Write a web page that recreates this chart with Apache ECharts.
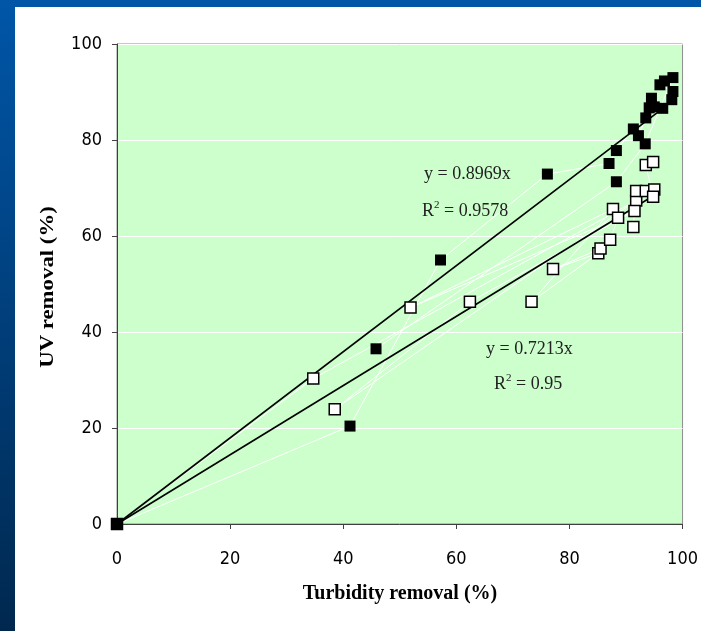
<!DOCTYPE html>
<html><head><meta charset="utf-8">
<script src="https://cdn.jsdelivr.net/npm/echarts@6/dist/echarts.min.js"></script>
<style>html,body{margin:0;padding:0;background:#fff}#c{width:701px;height:631px}</style>
</head><body><div id="c"></div>
<script>
// Filled squares (data order)
var filledX = [0, 41.2, 57.2, 76.1, 87.0, 88.3, 91.3, 92.2, 93.5, 94.1, 95.0, 94.5, 96.5, 98.1, 98.3, 96.0, 96.8, 98.3, 93.4, 88.3, 45.8];
var filledY = [0, 20.4, 55.0, 72.9, 75.1, 77.8, 82.3, 80.9, 84.6, 86.7, 86.9, 88.7, 86.6, 88.4, 90.1, 91.5, 92.3, 93.0, 79.2, 71.3, 36.5];
// Open squares (data order)
var openX = [0, 34.7, 91.8, 38.5, 62.4, 91.5, 51.9, 87.7, 73.3, 85.1, 77.1, 85.5, 87.2, 88.6, 91.3, 91.8, 93.5, 95.0, 94.8, 93.5, 94.8];
var openY = [0, 30.3, 67.4, 23.9, 46.3, 65.2, 45.1, 65.6, 46.3, 56.4, 53.1, 57.4, 59.2, 63.8, 61.9, 69.4, 69.4, 69.7, 68.2, 74.8, 75.4];
// Linear trend lines through origin
var trendUpperX = [0, 96.0];
var trendUpperY = [0, 86.1];
var trendLowerX = [0, 95.0];
var trendLowerY = [0, 68.5];
var xTicks = [0, 20, 40, 60, 80, 100];
var yTicks = [0, 20, 40, 60, 80, 100];

function pairs(xs, ys) { return xs.map(function (x, i) { return [x, ys[i]]; }); }

var chart = echarts.init(document.getElementById('c'), null, {renderer: 'canvas'});
var tickFont = 'DejaVu Sans Condensed';
var eqFont = '18px "Liberation Serif"';
var supRich = {s: {fontSize: 11, fontFamily: 'Liberation Serif', verticalAlign: 'top', padding: [0, 0, 11, 0], fill: '#222'}};
var option = {
  animation: false,
  backgroundColor: '#ffffff',
  graphic: [
    {type: 'rect', z: -10, silent: true, shape: {x: 0, y: 0, width: 701, height: 631},
     style: {fill: new echarts.graphic.LinearGradient(0, 0, 0, 1, [{offset: 0, color: '#0056a8'}, {offset: 1, color: '#00284f'}])}},
    {type: 'rect', z: -9, silent: true, shape: {x: 15, y: 7, width: 686, height: 624}, style: {fill: '#ffffff'}},
    {type: 'text', x: 424, y: 165, z: 50,
     style: {text: 'y = 0.8969x', font: eqFont, fill: '#222', verticalAlign: 'top'}},
    {type: 'text', x: 422, y: 200, z: 50,
     style: {text: 'R{s|2} = 0.9578', font: eqFont, fill: '#222', verticalAlign: 'top', rich: supRich}},
    {type: 'text', x: 486, y: 340, z: 50,
     style: {text: 'y = 0.7213x', font: eqFont, fill: '#222', verticalAlign: 'top'}},
    {type: 'text', x: 494, y: 373, z: 50,
     style: {text: 'R{s|2} = 0.95', font: eqFont, fill: '#222', verticalAlign: 'top', rich: supRich}},
    {type: 'text', x: 400, y: 594, z: 50,
     style: {text: 'Turbidity removal (%)', font: 'bold 20px "Liberation Serif"', fill: '#000', align: 'center', verticalAlign: 'middle'}},
    {type: 'text', x: 48, y: 287, z: 50, rotation: Math.PI / 2, scaleX: 1.2,
     style: {text: 'UV removal (%)', font: 'bold 19px "Liberation Serif"', fill: '#000', align: 'center', verticalAlign: 'middle'}}
  ],
  grid: {left: 117, right: 16, top: 44, bottom: 107, show: true, backgroundColor: '#ccffcc', borderColor: '#8c8c8c', borderWidth: 1},
  xAxis: {
    type: 'value', min: 0, max: 100, interval: 20,
    axisLine: {show: true, lineStyle: {color: '#404040', width: 1}},
    axisTick: {show: true, length: 5, lineStyle: {color: '#404040'}},
    axisLabel: {fontFamily: tickFont, fontSize: 18, color: '#000', margin: 26,
      formatter: function (v) { return xTicks.indexOf(v) >= 0 ? String(v) : ''; }},
    splitLine: {show: false}
  },
  yAxis: {
    type: 'value', min: 0, max: 100, interval: 20,
    axisLine: {show: true, lineStyle: {color: '#404040', width: 1}},
    axisTick: {show: true, length: 5, lineStyle: {color: '#404040'}},
    axisLabel: {fontFamily: tickFont, fontSize: 18, color: '#000', margin: 15,
      formatter: function (v) { return yTicks.indexOf(v) >= 0 ? String(v) : ''; }},
    splitLine: {show: true, lineStyle: {color: '#ffffff', width: 1}}
  },
  series: [
    {type: 'line', data: pairs(openX, openY), symbol: 'none', z: 1,
     lineStyle: {color: '#ffffff', width: 1}},
    {type: 'line', data: pairs(filledX, filledY), symbol: 'none', z: 1,
     lineStyle: {color: '#ffffff', width: 1}},
    {type: 'line', data: pairs(trendUpperX, trendUpperY), symbol: 'none', z: 2,
     lineStyle: {color: '#000000', width: 1.6}},
    {type: 'line', data: pairs(trendLowerX, trendLowerY), symbol: 'none', z: 2,
     lineStyle: {color: '#000000', width: 1.6}},
    {type: 'scatter', data: pairs(openX, openY), symbol: 'rect', symbolSize: 11, z: 3,
     itemStyle: {color: '#ffffff', borderColor: '#000000', borderWidth: 1.5, opacity: 1}},
    {type: 'scatter', data: pairs(filledX, filledY), symbol: 'rect', symbolSize: 11, z: 4,
     itemStyle: {color: '#000000', opacity: 1}}
  ]
};
chart.setOption(option);
</script></body></html>
